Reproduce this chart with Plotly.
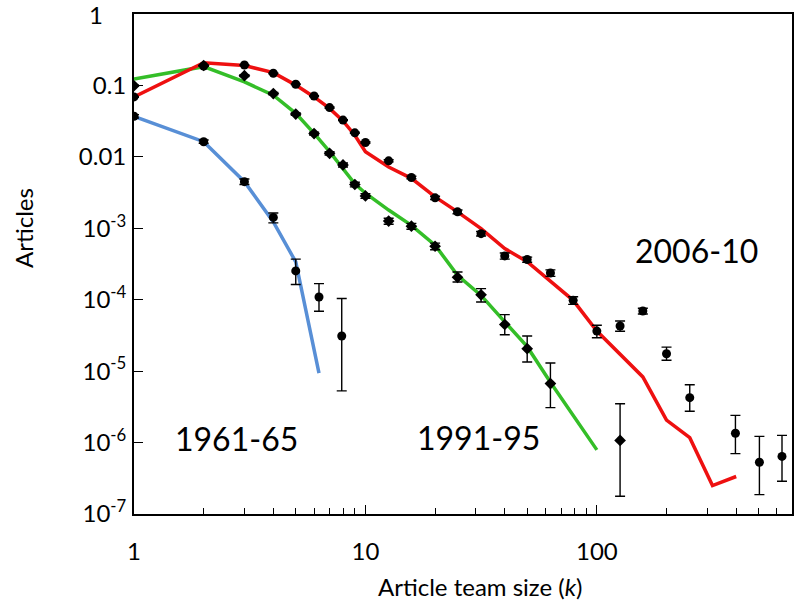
import numpy as np
import plotly.graph_objects as go

# ---------------- data ----------------
# 1961-65 (blue)
k61_pts = [1, 2, 3, 4, 5, 6.3, 7.9]
v61_pts = [0.037, 0.0163, 0.0045, 0.00142, 0.000253, 1.09e-4, 3.1e-5]
v61_hi = [0.039, 0.0172, 0.0049, 0.00164, 3.7e-4, 1.68e-4, 1.04e-4]
v61_lo = [0.035, 0.0155, 0.0041, 0.00119, 1.63e-4, 6.9e-5, 5.3e-6]
k61_line = [1, 2, 3, 4, 5, 6.3]
v61_line = [0.037, 0.0163, 0.0045, 0.00123, 0.000338, 9.4e-6]

# 1991-95 (green, diamonds)
k91_pts = [1, 2, 3, 4, 5, 6, 7, 8, 9, 10, 12.6, 15.8, 20, 25, 31.6, 40, 50, 63, 126]
v91_pts = [0.099, 0.19, 0.137, 0.077, 0.0397, 0.0212, 0.0112, 0.0077, 0.0041, 0.00284,
           0.00126, 0.00107, 0.00056, 0.000206, 0.000117, 4.5e-5, 2.06e-5, 6.7e-6, 1.07e-6]
v91_hi = [0.101, 0.194, 0.141, 0.080, 0.0413, 0.0222, 0.0118, 0.0082, 0.0044, 0.00306,
          0.00138, 0.00117, 0.00062, 2.44e-4, 1.43e-4, 6.18e-5, 3.1e-5, 1.3e-5, 3.5e-6]
v91_lo = [0.097, 0.186, 0.133, 0.074, 0.0381, 0.0202, 0.0106, 0.0072, 0.0038, 0.00262,
          0.00114, 0.00097, 0.00050, 1.77e-4, 9.3e-5, 3.24e-5, 1.34e-5, 3.08e-6, 1.77e-7]
k91_line = [1, 2, 3, 4, 5, 6, 7, 8, 9, 10, 12.6, 15.8, 20, 25, 31.6, 40, 50, 63, 100]
v91_line = [0.123, 0.183, 0.112, 0.073, 0.0406, 0.0213, 0.0118, 0.0069, 0.0042, 0.0031,
            0.0018, 0.0011, 0.00058, 0.00022, 0.000115, 4.9e-5, 2.2e-5, 7e-6, 7.9e-7]

# 2006-10 (red, dots)
k06_pts = [1, 2, 3, 4, 5, 6, 7, 8, 9, 10, 12.6, 15.8, 20, 25, 31.6, 40, 50, 63, 79, 100,
           126, 158, 200, 252, 397, 504, 631]
v06_pts = [0.069, 0.187, 0.193, 0.148, 0.104, 0.071, 0.049, 0.0327, 0.0217, 0.0159,
           0.0088, 0.00514, 0.00267, 0.0017, 0.00084, 0.00041, 0.000365, 0.000237, 9.8e-5,
           3.64e-5, 4.28e-5, 6.95e-5, 1.75e-5, 4.25e-6, 1.35e-6, 5.3e-7, 6.4e-7]
v06_hi = [0.070, 0.189, 0.195, 0.150, 0.105, 0.072, 0.050, 0.0332, 0.0221, 0.0163,
          0.0091, 0.00535, 0.00281, 0.00180, 0.00090, 0.00045, 0.000395, 0.000262, 1.1e-4,
          4.38e-5, 5.03e-5, 7.6e-5, 2.17e-5, 6.45e-6, 2.4e-6, 1.22e-6, 1.26e-6]
v06_lo = [0.068, 0.185, 0.191, 0.146, 0.103, 0.070, 0.048, 0.0322, 0.0213, 0.0155,
          0.0085, 0.00493, 0.00253, 0.00160, 0.00078, 0.00037, 0.000335, 0.000212, 8.6e-5,
          2.94e-5, 3.61e-5, 6.3e-5, 1.42e-5, 2.75e-6, 7.0e-7, 1.87e-7, 2.88e-7]
k06_line = [1, 2, 3, 4, 5, 6, 7, 8, 9, 10, 12.6, 15.8, 20, 25, 31.6, 40, 50, 63, 79, 100,
            126, 158, 200, 252, 316, 400]
v06_line = [0.069, 0.208, 0.19, 0.151, 0.101, 0.069, 0.0476, 0.0318, 0.0201, 0.0118,
            0.0072, 0.005, 0.00275, 0.0017, 0.00099, 0.00052, 0.00034, 0.000183, 9.8e-5,
            3.64e-5, 1.7e-5, 8.3e-6, 2.06e-6, 1.17e-6, 2.5e-7, 3.35e-7]

y_top_label = "1"
y_tickvals = [0.1, 0.01, 1e-3, 1e-4, 1e-5, 1e-6, 1e-7]
y_ticktext = ["0.1", "0.01", "10<sup>-3</sup>", "10<sup>-4</sup>", "10<sup>-5</sup>",
              "10<sup>-6</sup>", "10<sup>-7</sup>"]
x_tickvals = [1, 10, 100]
x_ticktext = ["1", "10", "100"]
x_minor = [2, 3, 4, 5, 6, 7, 8, 9, 20, 30, 40, 50, 60, 70, 80, 90, 200, 300, 400, 500, 600]

labels = ["1961-65", "1991-95", "2006-10"]

# ---------------- figure ----------------
BLUE = "rgb(88,143,214)"
GREEN = "rgb(52,190,40)"
RED = "rgb(238,16,16)"
FONT = "Lato, 'Open Sans', sans-serif"

fig = go.Figure()

for kx, vy, col in [(k61_line, v61_line, BLUE), (k91_line, v91_line, GREEN), (k06_line, v06_line, RED)]:
    fig.add_trace(go.Scatter(x=kx, y=vy, mode="lines",
                             line=dict(color=col, width=3.5), showlegend=False,
                             hoverinfo="skip"))


def err(v, hi, lo):
    return dict(type="data", symmetric=False,
                array=[h - x for h, x in zip(hi, v)],
                arrayminus=[x - l for l, x in zip(lo, v)],
                color="black", thickness=1.4, width=5)


fig.add_trace(go.Scatter(x=k61_pts, y=v61_pts, mode="markers",
                         marker=dict(symbol="circle", size=9, color="black"),
                         error_y=err(v61_pts, v61_hi, v61_lo), showlegend=False))
fig.add_trace(go.Scatter(x=k91_pts, y=v91_pts, mode="markers",
                         marker=dict(symbol="diamond", size=9, color="black"),
                         error_y=err(v91_pts, v91_hi, v91_lo), showlegend=False))
fig.add_trace(go.Scatter(x=k06_pts, y=v06_pts, mode="markers",
                         marker=dict(symbol="circle", size=9, color="black"),
                         error_y=err(v06_pts, v06_hi, v06_lo), showlegend=False))

L, R, T, B = 134, 3, 14, 90
W, H = 795, 604
PW, PH = W - L - R, H - T - B


def px(xp):
    return (xp - L) / PW


def py(yp):
    return (T + PH - yp) / PH


ann = []
for txt, cx, cy in zip(labels, [236, 478, 696], [438, 437, 250]):
    ann.append(dict(text=txt, x=px(cx), y=py(cy), xref="paper", yref="paper",
                    showarrow=False, xanchor="center", yanchor="middle",
                    font=dict(size=32, color="black", family=FONT)))
ann.append(dict(text="Article team size (<i>k</i>)", x=px(480), y=py(586), xref="paper",
                yref="paper", showarrow=False, xanchor="center", yanchor="middle",
                font=dict(size=24, color="black", family=FONT)))
ann.append(dict(text="Articles", x=px(23), y=py(228), xref="paper", yref="paper",
                showarrow=False, xanchor="center", yanchor="middle", textangle=-90,
                font=dict(size=24, color="black", family=FONT)))
# top tick label of the y axis (value 1, at the top of the log axis)
ann.append(dict(text=y_top_label, x=px(105), y=1, xref="paper", yref="y",
                showarrow=False, xanchor="right", yanchor="middle",
                font=dict(size=24, color="black", family=FONT)))
ann[-1]["y"] = 0  # log10(1) on the log y axis

fig.update_layout(
    width=W, height=H,
    margin=dict(l=L, r=R, t=T, b=B, autoexpand=False),
    paper_bgcolor="white", plot_bgcolor="white",
    font=dict(family=FONT, size=24, color="black"),
    annotations=ann,
    showlegend=False,
)
fig.update_xaxes(type="log", range=[0, np.log10(697)], automargin=False,
                 tickvals=x_tickvals, ticktext=x_ticktext,
                 ticks="inside", ticklen=9, tickwidth=1.2, tickcolor="black",
                 showline=True, linecolor="black", linewidth=1.8, mirror=True,
                 showgrid=False, zeroline=False, ticklabelstandoff=15,
                 ticklabeloverflow="allow",
                 minor=dict(tickvals=x_minor, ticks="inside", ticklen=6, tickwidth=1.2,
                            tickcolor="black", showgrid=False),
                 tickfont=dict(size=24, family=FONT))
fig.update_yaxes(type="log", range=[-7, 0], automargin=False,
                 tickvals=y_tickvals, ticktext=y_ticktext,
                 ticks="inside", ticklen=9, tickwidth=1.2, tickcolor="black",
                 showline=True, linecolor="black", linewidth=1.8, mirror=True,
                 showgrid=False, zeroline=False, ticklabelstandoff=1,
                 ticklabeloverflow="allow",
                 tickfont=dict(size=24, family=FONT))

fig.write_html("out.html", config={"displayModeBar": False},
               post_script="document.body.style.margin='0';document.body.style.overflow='hidden';")
